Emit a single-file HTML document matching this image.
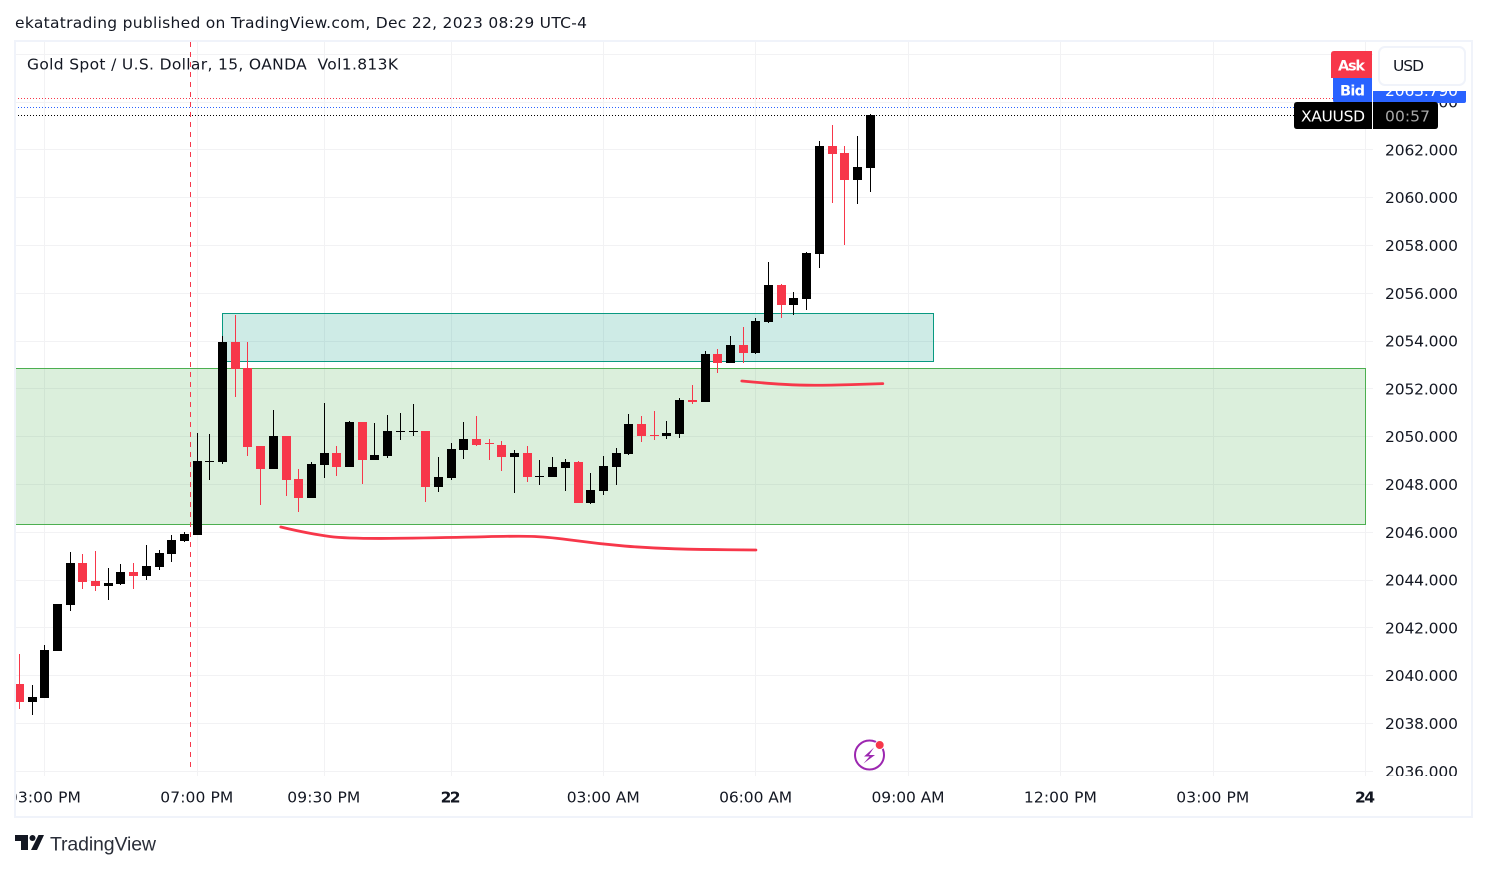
<!DOCTYPE html>
<html lang="en">
<head>
<meta charset="utf-8">
<title>XAUUSD chart</title>
<style>
html,body{margin:0;padding:0;background:#fff;width:1487px;height:870px;overflow:hidden}
svg{display:block;font-family:"DejaVu Sans",sans-serif}
text{fill:#131722;font-size:15.5px}
</style>
</head>
<body>
<svg id="chart" xmlns="http://www.w3.org/2000/svg" width="1487" height="870" viewBox="0 0 1487 870">
  <defs>
    <clipPath id="pane-clip"><rect x="15" y="42" width="1358" height="734"/></clipPath>
    <clipPath id="price-clip"><rect x="1373" y="42" width="98" height="734"/></clipPath>
    <clipPath id="time-clip"><rect x="15" y="776" width="1456" height="40"/></clipPath>
  </defs>
  <text x="15" y="28" textLength="572" lengthAdjust="spacing">ekatatrading published on TradingView.com, Dec 22, 2023 08:29 UTC-4</text>
  <g id="grid" clip-path="url(#pane-clip)" shape-rendering="crispEdges"></g>
  <g id="zones" clip-path="url(#pane-clip)"></g>
  <g id="candles" clip-path="url(#pane-clip)" shape-rendering="crispEdges"></g>
  <g id="brushes" clip-path="url(#pane-clip)"></g>
  <g id="levels" shape-rendering="crispEdges"></g>
  <line id="session-line" y1="42" y2="772" stroke="#f7374a" stroke-width="1" stroke-dasharray="5 5"/>
  <g id="price-axis" clip-path="url(#price-clip)"></g>
  <g id="time-axis" clip-path="url(#time-clip)"></g>
  <text x="27" y="69.500" textLength="371" lengthAdjust="spacing" xml:space="preserve">Gold Spot / U.S. Dollar, 15, OANDA  Vol1.813K</text>

  <g>
    <rect x="1373" y="84" width="93" height="19" rx="2" fill="#2962ff"/>
    <text id="bid-value" x="1385" y="96" textLength="73" lengthAdjust="spacing" style="fill:#fff"></text>
  </g>
  <rect x="1373" y="42" width="98" height="49" fill="#fff"/>
  <g>
    <path d="M1334 51H1372V78H1331V54Q1331 51 1334 51Z" fill="#f7374a"/>
    <text x="1338" y="70.500" textLength="27" lengthAdjust="spacing" style="fill:#fff;font-weight:bold;font-size:14.5px">Ask</text>
  </g>
  <g>
    <path d="M1333 78H1372V103H1336Q1333 103 1333 100Z" fill="#2962ff"/>
    <text x="1340" y="95.500" textLength="25" lengthAdjust="spacing" style="fill:#fff;font-weight:bold;font-size:14.5px">Bid</text>
  </g>
  <g>
    <rect x="1379" y="47" width="86" height="38" rx="6" fill="#fff" stroke="#f0f3fa" stroke-width="2"/>
    <text x="1393" y="71" textLength="31" lengthAdjust="spacing">USD</text>
  </g>
  <g>
    <path d="M1297 102H1372V129H1297Q1294 129 1294 126V105Q1294 102 1297 102Z" fill="#000"/>
    <text x="1301" y="121.500" textLength="64" lengthAdjust="spacing" style="fill:#fff">XAUUSD</text>
    <path d="M1373 102H1435Q1438 102 1438 105V126Q1438 129 1435 129H1373Z" fill="#000"/>
    <text x="1385" y="121.500" textLength="45" lengthAdjust="spacing" style="fill:#a8a8a8">00:57</text>
  </g>

  <g>
    <circle cx="869.500" cy="755" r="14.500" fill="#fff" stroke="#9c27b0" stroke-width="2"/>
    <path d="M874 747.500L864 756.500H869.500L863.500 763.500L875 755H869L874 747.500Z" fill="#9c27b0"/>
    <circle cx="879.700" cy="745" r="4.500" fill="#f7374a" stroke="#fff" stroke-width="1"/>
  </g>

  <rect x="15" y="41" width="1457" height="776" fill="none" stroke="#f0f3fa" stroke-width="2"/>

  <g>
    <path d="M15 835H28V850H21V841H15ZM38.500 835H44L37 850H31Z" fill="#131722"/>
    <circle cx="32.500" cy="838" r="3" fill="#131722"/>
    <text x="50" y="850.500" textLength="106" lengthAdjust="spacing" style="font-family:'Liberation Sans',sans-serif;font-size:19.500px;fill:#2a2e39">TradingView</text>
  </g>
</svg>
<script>
const opens = [2039.65,2038.90,2039.07,2041.03,2042.96,2044.72,2043.96,2043.75,2043.84,2044.34,2044.17,2044.55,2045.09,2045.64,2045.89,2048.95,2048.94,2053.96,2052.87,2049.61,2048.65,2050.03,2048.23,2047.44,2048.82,2049.32,2048.73,2050.62,2049.03,2049.19,2050.22,2050.22,2050.24,2047.90,2048.27,2049.44,2049.90,2049.72,2049.65,2049.15,2049.32,2048.34,2048.31,2048.69,2048.94,2047.23,2047.73,2048.73,2049.28,2050.53,2050.09,2050.03,2050.11,2051.54,2051.45,2053.46,2053.08,2053.84,2053.50,2054.80,2056.35,2055.51,2055.76,2057.64,2062.16,2061.87,2060.74,2061.24];
const highs = [2040.91,2039.61,2041.28,2043.00,2045.18,2045.09,2045.22,2044.51,2044.67,2044.72,2045.47,2045.26,2045.89,2046.01,2050.15,2050.11,2054.21,2055.09,2053.96,2049.61,2051.12,2050.03,2048.65,2048.94,2051.41,2049.61,2050.66,2050.62,2050.57,2050.91,2050.99,2051.37,2050.24,2049.15,2049.74,2050.62,2050.87,2049.90,2049.82,2049.44,2049.61,2049.03,2049.15,2049.07,2048.98,2048.48,2049.19,2049.53,2050.95,2050.87,2051.08,2050.66,2051.62,2052.16,2053.59,2053.67,2054.21,2054.59,2054.97,2057.31,2056.39,2056.05,2057.73,2062.37,2063.04,2062.16,2062.58,2063.50];
const lows = [2038.61,2038.36,2039.07,2041.03,2042.71,2043.63,2043.54,2043.17,2043.80,2043.63,2044.00,2044.42,2044.76,2045.59,2045.89,2048.19,2048.86,2051.66,2049.19,2047.14,2048.65,2047.52,2046.85,2047.44,2048.27,2048.36,2048.73,2048.02,2049.03,2049.11,2049.86,2050.03,2047.27,2047.69,2048.19,2049.07,2049.61,2049.03,2048.57,2047.64,2048.10,2047.98,2048.31,2047.73,2047.23,2047.18,2047.56,2047.98,2049.23,2049.78,2049.86,2049.90,2049.95,2051.37,2051.45,2052.67,2053.08,2053.08,2053.46,2054.76,2054.97,2055.09,2055.30,2057.06,2059.78,2058.02,2059.74,2060.24];
const closes = [2038.90,2039.11,2041.07,2043.00,2044.72,2043.92,2043.75,2043.88,2044.34,2044.17,2044.59,2045.13,2045.68,2045.93,2048.98,2048.99,2053.96,2052.83,2049.57,2048.65,2050.03,2048.19,2047.44,2048.86,2049.32,2048.73,2050.62,2049.03,2049.23,2050.24,2050.24,2050.24,2047.90,2048.31,2049.49,2049.90,2049.65,2049.70,2049.15,2049.32,2048.31,2048.36,2048.73,2048.94,2047.23,2047.77,2048.77,2049.32,2050.53,2050.03,2050.07,2050.15,2051.54,2051.45,2053.46,2053.08,2053.84,2053.50,2054.84,2056.35,2055.51,2055.80,2057.69,2062.16,2061.83,2060.74,2061.28,2063.46];

const priceTicks = [2036,2038,2040,2042,2044,2046,2048,2050,2052,2054,2056,2058,2060,2062,2064,2066];
const timeTickBars = [2,14,24,34,46,58,70,82,94,106];
const timeTickLabels = ["03:00 PM","07:00 PM","09:30 PM","22","03:00 AM","06:00 AM","09:00 AM","12:00 PM","03:00 PM","24"];
const boldTimeTicks = ["22","24"];

const askPrice = 2064.16;
const bidPrice = 2063.79;
const sessionBreakBar = 13.47;
const greenZonePrices = [2052.87,2046.35];
const greenZoneBars = [-0.4,106];
const tealZonePrices = [2055.18,2053.17];
const tealZoneBars = [16,72];
const brushOneBars = [20.59,22.87,26.02,33.9,39.4,41.77,45.7,49.65,53.6,58];
const brushOnePrices = [2046.22,2045.93,2045.72,2045.78,2045.85,2045.80,2045.51,2045.34,2045.28,2045.26];
const brushTwoBars = [56.89,59.88,63.03,67.99];
const brushTwoPrices = [2052.33,2052.18,2052.14,2052.22];

const NS = 'http://www.w3.org/2000/svg';
function xAt(bar){ return 19.3 + bar * 12.7; }
function yAt(price){ return 532.3 - (price - 2046) * 23.9; }
function make(tag, parentId){
  const el = document.createElementNS(NS, tag);
  document.getElementById(parentId).appendChild(el);
  return el;
}

priceTicks.forEach(function(price){
  const y = Math.floor(yAt(price)) + 0.5;
  const line = make('line','grid');
  
  
  line.setAttribute('x1', 15);
  line.setAttribute('x2', 1373);
  line.setAttribute('y1', y);
  line.setAttribute('y2', y);
  line.setAttribute('stroke', '#f2f2f4');
  const label = make('text','price-axis');
  
  
  label.setAttribute('x', 1385);
  label.setAttribute('y', yAt(price) + 5.5);
  label.setAttribute('textLength', 73);
  label.setAttribute('lengthAdjust', 'spacing');
  label.textContent = price.toFixed(3);
});

timeTickBars.forEach(function(bar, i){
  const x = Math.floor(xAt(bar)) + 0.5;
  const line = make('line','grid');
  
  
  line.setAttribute('x1', x);
  line.setAttribute('x2', x);
  line.setAttribute('y1', 42);
  line.setAttribute('y2', 776);
  line.setAttribute('stroke', '#f2f2f4');
  const name = timeTickLabels[i];
  const isBold = boldTimeTicks.indexOf(name) >= 0;
  const label = make('text','time-axis');
  
  
  label.setAttribute('x', xAt(bar) + (isBold ? -0.5 : -0.3));
  label.setAttribute('y', 802.5);
  label.setAttribute('text-anchor', 'middle');
  label.setAttribute('textLength', isBold ? 20 : 73);
  label.setAttribute('lengthAdjust', 'spacing');
  if (isBold) { label.style.fontWeight = 'bold'; }
  label.textContent = name;
});

function drawZone(bars, prices, fill, stroke, name){
  const left = Math.floor(xAt(bars[0]));
  const r = make('rect','zones');
  
  
  r.setAttribute('x', left + 0.5);
  r.setAttribute('y', Math.round(yAt(prices[0])) + 0.5);
  r.setAttribute('width', Math.floor(xAt(bars[1])) - left);
  r.setAttribute('height', Math.round(yAt(prices[1]) - yAt(prices[0])));
  r.setAttribute('fill', fill);
  r.setAttribute('stroke', stroke);
  r.setAttribute('stroke-width', 1);
}
drawZone(greenZoneBars, greenZonePrices, 'rgba(76,175,80,0.2)', '#4caf50', 'green-demand-zone');
drawZone(tealZoneBars, tealZonePrices, 'rgba(8,153,129,0.2)', '#089981', 'teal-supply-zone');

opens.forEach(function(open, i){
  const close = closes[i];
  const color = close >= open ? '#000000' : '#f7374a';
  const cx = Math.floor(xAt(i));
  const top = Math.round(yAt(Math.max(open, close)));
  const bottom = Math.round(yAt(Math.min(open, close)));
  const high = Math.round(yAt(highs[i]));
  const low = Math.round(yAt(lows[i]));
  const wick = make('rect','candles');
  
  
  wick.setAttribute('x', cx);
  wick.setAttribute('y', high);
  wick.setAttribute('width', 1);
  wick.setAttribute('height', Math.max(1, low - high));
  wick.setAttribute('fill', color);
  const body = make('rect','candles');
  
  
  body.setAttribute('x', cx - 4);
  body.setAttribute('y', top);
  body.setAttribute('width', 9);
  body.setAttribute('height', Math.max(1, bottom - top));
  body.setAttribute('fill', color);
});

function drawBrush(bars, prices, name){
  const pts = bars.map(function(b, i){ return [xAt(b), yAt(prices[i])]; });
  let d = 'M' + pts[0][0] + ' ' + pts[0][1];
  for (let i = 1; i < pts.length - 1; i++) {
    const mx = (pts[i][0] + pts[i + 1][0]) / 2;
    const my = (pts[i][1] + pts[i + 1][1]) / 2;
    d += 'Q' + pts[i][0] + ' ' + pts[i][1] + ' ' + mx + ' ' + my;
  }
  d += 'L' + pts[pts.length - 1][0] + ' ' + pts[pts.length - 1][1];
  const p = make('path','brushes');
  
  
  p.setAttribute('d', d);
  p.setAttribute('fill', 'none');
  p.setAttribute('stroke', '#f7374a');
  p.setAttribute('stroke-width', 2.8);
  p.setAttribute('stroke-linecap', 'round');
  p.setAttribute('stroke-linejoin', 'round');
}
drawBrush(brushOneBars, brushOnePrices, 'lower-brush-stroke');
drawBrush(brushTwoBars, brushTwoPrices, 'upper-brush-stroke');

function drawLevel(price, color, name){
  const y = Math.floor(yAt(price)) + 0.5;
  const l = make('line','levels');
  
  
  l.setAttribute('x1', 15);
  l.setAttribute('x2', 1334);
  l.setAttribute('y1', y);
  l.setAttribute('y2', y);
  l.setAttribute('stroke', color);
  l.setAttribute('stroke-dasharray', '1 2');
}
drawLevel(askPrice, '#f7374a', 'ask-price-line');
drawLevel(bidPrice, '#2962ff', 'bid-price-line');
drawLevel(closes[closes.length - 1], '#000000', 'last-price-line');

const sessionLine = document.getElementById('session-line');
sessionLine.setAttribute('x1', Math.floor(xAt(sessionBreakBar)) + 0.5);
sessionLine.setAttribute('x2', Math.floor(xAt(sessionBreakBar)) + 0.5);

document.getElementById('bid-value').textContent = bidPrice.toFixed(3);
</script>
</body>
</html>
